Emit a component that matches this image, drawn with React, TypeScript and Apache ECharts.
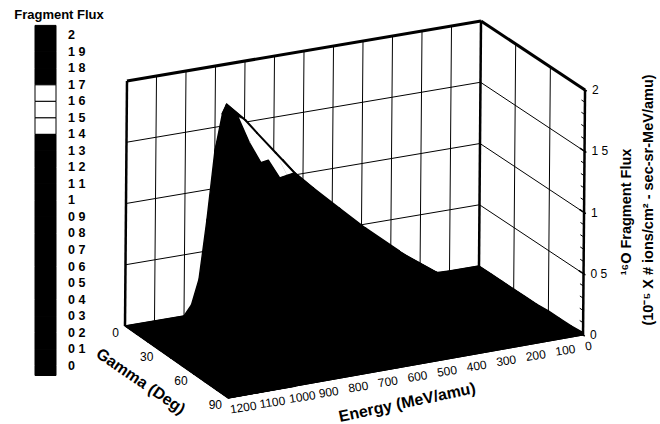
import React, { useEffect, useRef } from "react";
import * as echarts from "echarts";

// ---- data ----
const energies = [0, 100, 200, 300, 400, 500, 600, 625, 650, 700, 725, 750, 775, 800, 825, 850, 875, 900, 925, 950, 975, 1000, 1100, 1200];
const gammas = [0, 10, 20, 30, 40, 50, 60, 70, 80, 90];
const fluxG0 = [0, 0, .01, .03, .08, .18, .36, .43, .5, .66, .76, .85, .95, 1.05, 1.16, 1.3, 1.6, 1.3, .75, .28, .08, 0, 0, 0];
const fluxG10 = [0, 0, .01, .04, .1, .2, .38, .45, .52, .68, .78, .88, .98, 1.1, 1.22, 1.35, 1.67, 1.75, 1.05, .3, .1, .02, 0, 0];
const fluxG20 = [0, 0, .02, .05, .11, .22, .4, .46, .53, .7, .8, .9, 1.02, 1.15, 1.3, 1.45, 1.676, 1.71, 1.25, .45, .12, .03, 0, 0];
const fluxG30 = [0, .01, .03, .07, .13, .24, .42, .48, .55, .72, .82, .92, 1.05, 1.2, 1.35, 1.5, 1.638, 1.566, 1.2, .5, .14, .03, 0, 0];
const fluxG40 = [0, .02, .05, .09, .16, .27, .45, .51, .58, .76, .87, .98, 1.13, 1.3, 1.46, 1.53, 1.48, 1.47, 1.15, .5, .14, .03, 0, 0];
const fluxG50 = [0, .03, .08, .14, .22, .33, .5, .57, .64, .8, .9, 1.02, 1.15, 1.3, 1.42, 1.41, 1.4, 1.1, .8, .35, .1, .02, 0, 0];
const fluxG60 = [.01, .05, .11, .19, .28, .42, .6, .67, .74, .9, 1, 1.1, 1.22, 1.347, 1.3, 1.25, 1.1, .85, .5, .22, .07, .01, 0, 0];
const fluxG70 = [.01, .06, .14, .24, .36, .52, .72, .8, .87, 1.02, 1.12, 1.225, 1.2, 1.15, 1.08, .95, .75, .5, .28, .12, .04, 0, 0, 0];
const fluxG80 = [.01, .07, .17, .28, .42, .6, .82, .9, .97, 1.106, 1.08, 1.05, 1, .92, .8, .62, .42, .25, .12, .05, .01, 0, 0, 0];
const fluxG90 = [.02, .1, .25, .4, .58, .73, .905, .953, .94, .9, .86, .82, .75, .65, .5, .34, .2, .1, .05, .02, 0, 0, 0, 0];
const fluxRows = [fluxG0, fluxG10, fluxG20, fluxG30, fluxG40, fluxG50, fluxG60, fluxG70, fluxG80, fluxG90];
const ridgeEnergy = [875, 900, 875, 875, 850, 825, 800, 750, 700, 625];

const energyTicks = [0, 100, 200, 300, 400, 500, 600, 700, 800, 900, 1000, 1100, 1200];
const gammaTicks = [0, 30, 60, 90];
const fluxTicks = [0, 0.5, 1, 1.5, 2];
const fluxTickLabels = ["0", "0 5", "1", "1 5", "2"];
const fluxMinorTicks = [0.1, 0.2, 0.3, 0.4, 0.6, 0.7, 0.8, 0.9, 1.1, 1.2, 1.3, 1.4, 1.6, 1.7, 1.8, 1.9];
const legendLevels = [2, 1.9, 1.8, 1.7, 1.6, 1.5, 1.4, 1.3, 1.2, 1.1, 1, 0.9, 0.8, 0.7, 0.6, 0.5, 0.4, 0.3, 0.2, 0.1, 0];
const legendLabels = ["2", "1 9", "1 8", "1 7", "1 6", "1 5", "1 4", "1 3", "1 2", "1 1", "1", "0 9", "0 8", "0 7", "0 6", "0 5", "0 4", "0 3", "0 2", "0 1", "0"];
const whiteBand = [1.4, 1.7];

// ---- view ----
const FONT = "Liberation Sans";
const project = (e: number, g: number, z: number): [number, number] => {
  const cross = (e / 1200) * (g / 90);
  return [479 - 0.295 * e + 1.156 * g - cross + z, 266 + 0.05 * e + 0.767 * g + 3 * cross - 122.5 * z];
};
const legendY = (v: number) => 365.6 - 165.15 * v;

const inBand = (v: number) => v >= whiteBand[0] && v <= whiteBand[1];

// a folded mesh cell is filled as the outline of its four corners
const hull = (pts: number[][]) => {
  const s = [...pts].sort((a, b) => a[0] - b[0] || a[1] - b[1]);
  const cross = (o: number[], a: number[], b: number[]) => (a[0] - o[0]) * (b[1] - o[1]) - (a[1] - o[1]) * (b[0] - o[0]);
  const half = (list: number[][]) => {
    const out: number[][] = [];
    list.forEach((p) => {
      while (out.length >= 2 && cross(out[out.length - 2], out[out.length - 1], p) <= 0) out.pop();
      out.push(p);
    });
    out.pop();
    return out;
  };
  return [...half(s), ...half([...s].reverse())];
};

type Seg = { a: [number, number, number]; b: [number, number, number]; w: number };
const wallSegments: Seg[] = [];
energyTicks.forEach((e) => { if (e > 0 && e < 1200) wallSegments.push({ a: [e, 0, 0], b: [e, 0, 2], w: 1 }); });
gammaTicks.forEach((g) => { if (g > 0 && g < 90) wallSegments.push({ a: [0, g, 0], b: [0, g, 2], w: 1 }); });
fluxTicks.forEach((z) => {
  if (z > 0 && z < 2) {
    wallSegments.push({ a: [1200, 0, z], b: [0, 0, z], w: 1 });
    wallSegments.push({ a: [0, 0, z], b: [0, 91.5, z], w: 1 });
  }
});
fluxMinorTicks.forEach((z) => wallSegments.push({ a: [0, 87, z], b: [0, 90, z], w: 1 }));
fluxTicks.forEach((z) => wallSegments.push({ a: [0, 86, z], b: [0, 91.5, z], w: 1.5 }));
const frameSegments: Seg[] = [
  { a: [1200, 0, 0], b: [1200, 0, 2], w: 2.5 },
  { a: [0, 0, 0], b: [0, 0, 2], w: 2.5 },
  { a: [0, 90, 0], b: [0, 90, 2], w: 2.5 },
  { a: [1200, 0, 2], b: [0, 0, 2], w: 3 },
  { a: [0, 0, 2], b: [0, 90, 2], w: 3 },
];

type Cell = { g: number; e: number };
const cells: Cell[] = [];
for (let g = 0; g < gammas.length - 1; g++) for (let e = 0; e < energies.length - 1; e++) cells.push({ g, e });

const ridge = gammas.map((g, i) => {
  const e = ridgeEnergy[i];
  return project(e, g, fluxRows[i][energies.indexOf(e)]);
});
const ridgeFloor = gammas.map((g, i) => project(ridgeEnergy[i], g, 0));
const firstSolidRidgeRow = 5;

const legendEdges = [2.06, ...legendLevels.slice(1), -0.06];
const lastRow = fluxRows.length - 1;
const lastGamma = gammas[lastRow];
// the floor and the drop from the front row of the surface down to the floor
const floorEnergies = [0, energies[energies.length - 1]];
const floorGammas = [gammas[0], lastGamma];

const App = () => {
  const ref = useRef<HTMLDivElement>(null);
  useEffect(() => {
    const chart = echarts.init(ref.current!, undefined, { renderer: "svg" });
    const segRender = (list: Seg[]) => (params: any, api: any) => {
      const s = list[params.dataIndex];
      const p = api.coord(project(...s.a));
      const q = api.coord(project(...s.b));
      return {
        type: "line",
        shape: { x1: p[0], y1: p[1], x2: q[0], y2: q[1] },
        style: { stroke: "#000", lineWidth: s.w, fill: "none" },
      };
    };
    const texts: any[] = [];
    const addText = (text: string, x: number, y: number, font: string, opts: any = {}) =>
      texts.push({
        type: "text", x, y, rotation: opts.rotation || 0, silent: true,
        style: { text, fill: "#000", font: `${font} "${FONT}"`, textAlign: opts.align || "left", textVerticalAlign: "middle" },
      });
    energyTicks.forEach((e) => {
      const [x, y] = project(e, 90, 0);
      addText(String(e), x + 2, y + 11.5, "12px", { rotation: 0.15 });
    });
    gammaTicks.forEach((g) => {
      const [x, y] = project(1200, g, 0);
      addText(String(g), x - 6, y + 7, "12px", { align: "right" });
    });
    fluxTicks.forEach((z, i) => {
      const [x, y] = project(0, 90, z);
      addText(fluxTickLabels[i], x + 7, y, "12px");
    });
    legendLevels.forEach((v, i) => addText(legendLabels[i], 68, legendY(v), "bold 12.5px"));
    addText("Fragment Flux", 59, 14, "bold 13px", { align: "center" });
    addText("Gamma (Deg)", 141, 381, "bold 16px", { align: "center", rotation: -0.6 });
    addText("Energy (MeV/amu)", 407, 402, "bold 16px", { align: "center", rotation: 0.21 });
    addText("¹⁶O Fragment Flux", 626, 212, "bold 14.5px", { align: "center", rotation: Math.PI / 2 });
    addText("(10⁻⁵ X # ions/cm² - sec-sr-MeV/amu)", 648, 200, "bold 14.5px", { align: "center", rotation: Math.PI / 2 });

    chart.setOption({
      animation: false,
      grid: { left: 0, top: 0, right: 0, bottom: 0 },
      xAxis: { type: "value", min: 0, max: 660, show: false },
      yAxis: { type: "value", min: 0, max: 424, inverse: true, show: false },
      graphic: texts,
      series: [
        { type: "custom", clip: false, silent: true, data: wallSegments.map((_, i) => [i, 0]), renderItem: segRender(wallSegments), z: 1 },
        {
          type: "custom", clip: false, silent: true, data: [[0, 0]], z: 2,
          renderItem: (_: any, api: any) => ({
            type: "polygon",
            shape: {
              points: [
                project(floorEnergies[0], floorGammas[0], 0),
                project(floorEnergies[1], floorGammas[0], 0),
                project(floorEnergies[1], floorGammas[1], 0),
                project(floorEnergies[0], floorGammas[1], 0),
              ].map((p) => api.coord(p)),
            },
            style: { fill: "#000", stroke: "#000", lineWidth: 1 },
          }),
        },
        {
          type: "custom", clip: false, silent: true, data: energies.slice(0, -1).map((_, i) => [i, 0]), z: 3,
          renderItem: (params: any, api: any) => {
            const c = params.dataIndex;
            const row = fluxRows[lastRow];
            return {
              type: "polygon",
              shape: {
                points: [
                  project(energies[c], lastGamma, row[c]),
                  project(energies[c + 1], lastGamma, row[c + 1]),
                  project(energies[c + 1], lastGamma, 0),
                  project(energies[c], lastGamma, 0),
                ].map((p) => api.coord(p)),
              },
              style: { fill: "#000", stroke: "#000", lineWidth: 1 },
            };
          },
        },
        {
          type: "custom", clip: false, silent: true, z: 3,
          data: ridge.slice(firstSolidRidgeRow, -1).map((_, i) => [i, 0]),
          renderItem: (params: any, api: any) => {
            const i = params.dataIndex + firstSolidRidgeRow;
            return {
              type: "polygon",
              shape: { points: [ridge[i], ridge[i + 1], ridgeFloor[i + 1], ridgeFloor[i]].map((p) => api.coord(p)) },
              style: { fill: "#000", stroke: "#000", lineWidth: 1 },
            };
          },
        },
        {
          type: "custom", clip: false, silent: true, data: cells.map((_, i) => [i, 0]), z: 4,
          renderItem: (params: any, api: any) => {
            const { g, e } = cells[params.dataIndex];
            const corners: [number, number][] = [[g, e], [g, e + 1], [g + 1, e + 1], [g + 1, e]];
            const zs = corners.map(([r, c]) => fluxRows[r][c]);
            const mean = zs.reduce((a, b) => a + b, 0) / 4;
            const white = inBand(mean) && Math.max(...zs) - Math.min(...zs) < 0.25;
            const points = hull(corners.map(([r, c]) => api.coord(project(energies[c], gammas[r], fluxRows[r][c]))));
            const color = white ? "#fff" : "#000";
            return { type: "polygon", shape: { points }, style: { fill: color, stroke: color, lineWidth: white ? 0.4 : 1.4, lineJoin: "round" } };
          },
        },
        {
          type: "custom", clip: false, silent: true, data: ridge.slice(0, -1).map((_, i) => [i, 0]), z: 5,
          renderItem: (params: any, api: any) => {
            const p = api.coord(ridge[params.dataIndex]);
            const q = api.coord(ridge[params.dataIndex + 1]);
            return { type: "line", shape: { x1: p[0], y1: p[1], x2: q[0], y2: q[1] }, style: { stroke: "#000", lineWidth: 2, lineCap: "round" } };
          },
        },
        { type: "custom", clip: false, silent: true, data: frameSegments.map((_, i) => [i, 0]), renderItem: segRender(frameSegments), z: 6 },
        {
          type: "custom", clip: false, silent: true, data: legendEdges.slice(0, -1).map((_, i) => [i, 0]), z: 6,
          renderItem: (params: any, api: any) => {
            const i = params.dataIndex;
            const top = legendEdges[i], bottom = legendEdges[i + 1];
            const p = api.coord([35, legendY(top)]);
            const q = api.coord([56, legendY(bottom)]);
            const white = inBand((top + bottom) / 2);
            return { type: "rect", shape: { x: p[0], y: p[1], width: q[0] - p[0], height: q[1] - p[1] }, style: { fill: white ? "#fff" : "#000", stroke: "#000", lineWidth: 1 } };
          },
        },
      ],
    });
    return () => chart.dispose();
  }, []);
  return <div ref={ref} style={{ position: "absolute", left: 0, top: 0, width: 660, height: 424, background: "#fff" }} />;
};

export default App;
